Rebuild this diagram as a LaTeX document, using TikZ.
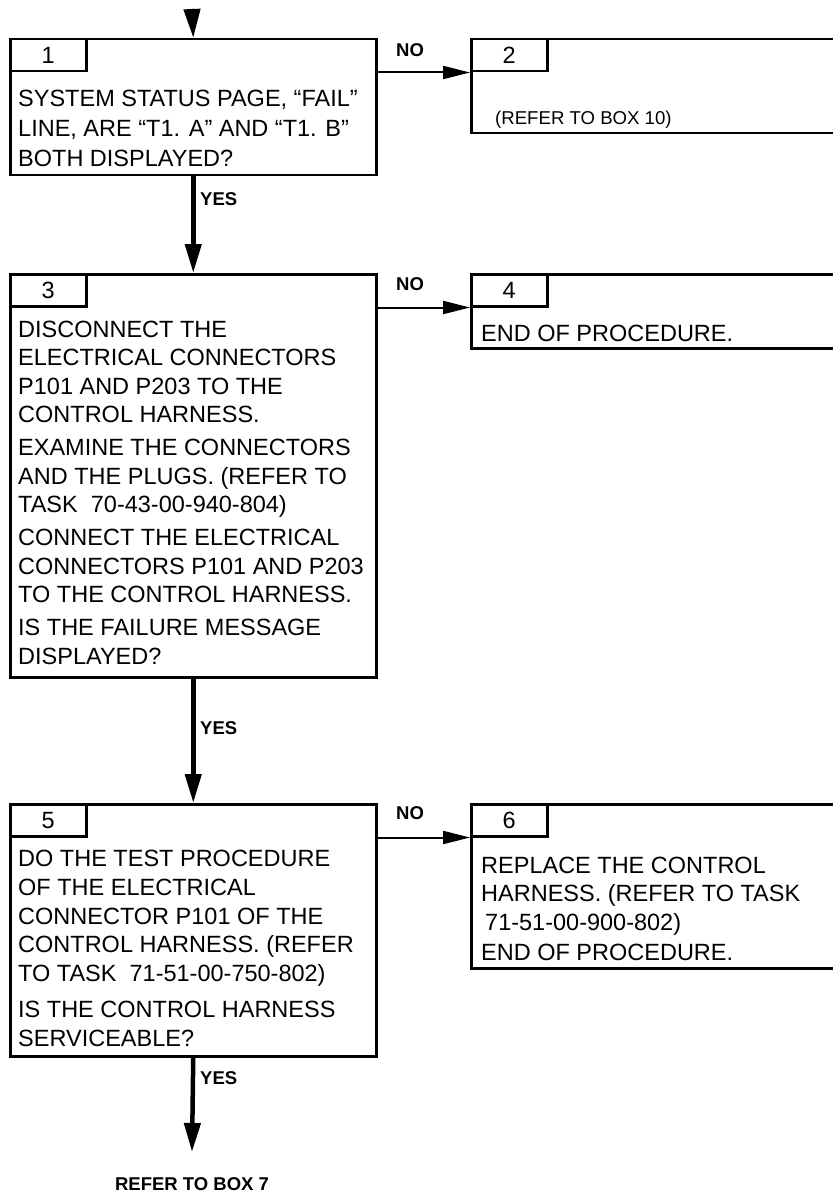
\documentclass[tikz,border=0pt]{standalone}
\usepackage{fontspec}
\setmainfont{Liberation Sans}
\usetikzlibrary{arrows.meta}
\begin{document}
\begin{tikzpicture}[x=1pt,y=-1pt,
  box/.style={draw, line width=2.5pt, anchor=north west, inner sep=0pt},
  tab/.style={draw, line width=2.5pt, anchor=north west, inner sep=0pt,
    minimum width=76pt, minimum height=32pt, font=\fontsize{23.5}{28}\selectfont},
  txt/.style={anchor=base west, inner sep=0pt, font=\fontsize{23.5}{28}\selectfont},
  smalltxt/.style={anchor=base west, inner sep=0pt, font=\fontsize{18.6}{22}\selectfont},
  lbl/.style={anchor=base west, inner sep=0pt, font=\fontsize{18.5}{22}\selectfont\bfseries},
  yesarrow/.style={line width=4.5pt, -{Triangle[length=29pt,width=16pt]}},
  noarrow/.style={line width=2pt, -{Triangle[length=27pt,width=13pt]}}]
\useasboundingbox (0,0) rectangle (832,1193);

% boxes
\node[box, minimum width=366pt, minimum height=136pt] (b1) at (9,38) {};
\node[box, minimum width=376pt, minimum height=94pt] (b2) at (470,38) {};
\node[box, minimum width=366pt, minimum height=403pt] (b3) at (9,273) {};
\node[box, minimum width=376pt, minimum height=74pt] (b4) at (470,273) {};
\node[box, minimum width=366pt, minimum height=252pt] (b5) at (9,803) {};
\node[box, minimum width=376pt, minimum height=164pt] (b6) at (470,803) {};

% number tabs
\node[tab] (n1) at (b1.north west) {1};
\node[tab] (n2) at (b2.north west) {2};
\node[tab] (n3) at (b3.north west) {3};
\node[tab] (n4) at (b4.north west) {4};
\node[tab] (n5) at (b5.north west) {5};
\node[tab] (n6) at (b6.north west) {6};

% box 1 text
\node[txt] (t1a) at (18,106.5) {SYSTEM STATUS PAGE, “FAIL”};
\node[txt] (t1b) at (18,136.5) {LINE, ARE “T1. A” AND “T1. B”};
\node[txt] (t1c) at (18,166.5) {BOTH DISPLAYED?};

% box 2 text
\node[smalltxt] (t2a) at (495,124.5) {(REFER TO BOX 10)};

% box 3 text
\node[txt] (t3a) at (18,337.4) {DISCONNECT THE};
\node[txt] (t3b) at (18,365.9) {ELECTRICAL CONNECTORS};
\node[txt] (t3c) at (18,394.4) {P101 AND P203 TO THE};
\node[txt] (t3d) at (18,422.9) {CONTROL HARNESS.};
\node[txt] (t3e) at (18,455.9) {EXAMINE THE CONNECTORS};
\node[txt] (t3f) at (18,484.4) {AND THE PLUGS. (REFER TO};
\node[txt] (t3g) at (18,512.9) {TASK\ \ 70-43-00-940-804)};
\node[txt] (t3h) at (18,545.9) {CONNECT THE ELECTRICAL};
\node[txt] (t3i) at (18,574.4) {CONNECTORS P101 AND P203};
\node[txt] (t3j) at (18,602.9) {TO THE CONTROL HARNESS.};
\node[txt] (t3k) at (18,635.9) {IS THE FAILURE MESSAGE};
\node[txt] (t3l) at (18,664.4) {DISPLAYED?};

% box 4 text
\node[txt] (t4a) at (481,341.4) {END OF PROCEDURE.};

% box 5 text
\node[txt] (t5a) at (18,866.4) {DO THE TEST PROCEDURE};
\node[txt] (t5b) at (18,895.4) {OF THE ELECTRICAL};
\node[txt] (t5c) at (18,924.4) {CONNECTOR P101 OF THE};
\node[txt] (t5d) at (18,952.4) {CONTROL HARNESS. (REFER};
\node[txt] (t5e) at (18,981.4) {TO TASK\ \ 71-51-00-750-802)};
\node[txt] (t5f) at (18,1017.4) {IS THE CONTROL HARNESS};
\node[txt] (t5g) at (18,1046.4) {SERVICEABLE?};

% box 6 text
\node[txt] (t6a) at (481,873.4) {REPLACE THE CONTROL};
\node[txt] (t6b) at (481,901.4) {HARNESS. (REFER TO TASK};
\node[txt] (t6c) at (485,930.4) {71-51-00-900-802)};
\node[txt] (t6d) at (481,960.4) {END OF PROCEDURE.};

% connectors
\coordinate (start) at (192,9);
\coordinate (end) at (192,1152);
\draw[yesarrow] (start) -- (b1.north);
\draw[yesarrow] (b1.south) -- (b3.north);
\draw[yesarrow] (b3.south) -- (b5.north);
\draw[yesarrow] (b5.south) -- (end);
\draw[noarrow] (n1.south -| b1.east) -- (n2.south west);
\draw[noarrow] (n3.south -| b3.east) -- (n4.south west);
\draw[noarrow] (n5.south -| b5.east) -- (n6.south west);

% labels
\node[lbl] (no1) at (396,56.5) {NO};
\node[lbl] (no2) at (396,290.5) {NO};
\node[lbl] (no3) at (396,819.5) {NO};
\node[lbl] (yes1) at (200,205.5) {YES};
\node[lbl] (yes2) at (200,734.5) {YES};
\node[lbl] (yes3) at (200,1084.5) {YES};
\node[lbl, anchor=base] (ref7) at (192,1190) {REFER TO BOX 7};
\end{tikzpicture}
\end{document}
